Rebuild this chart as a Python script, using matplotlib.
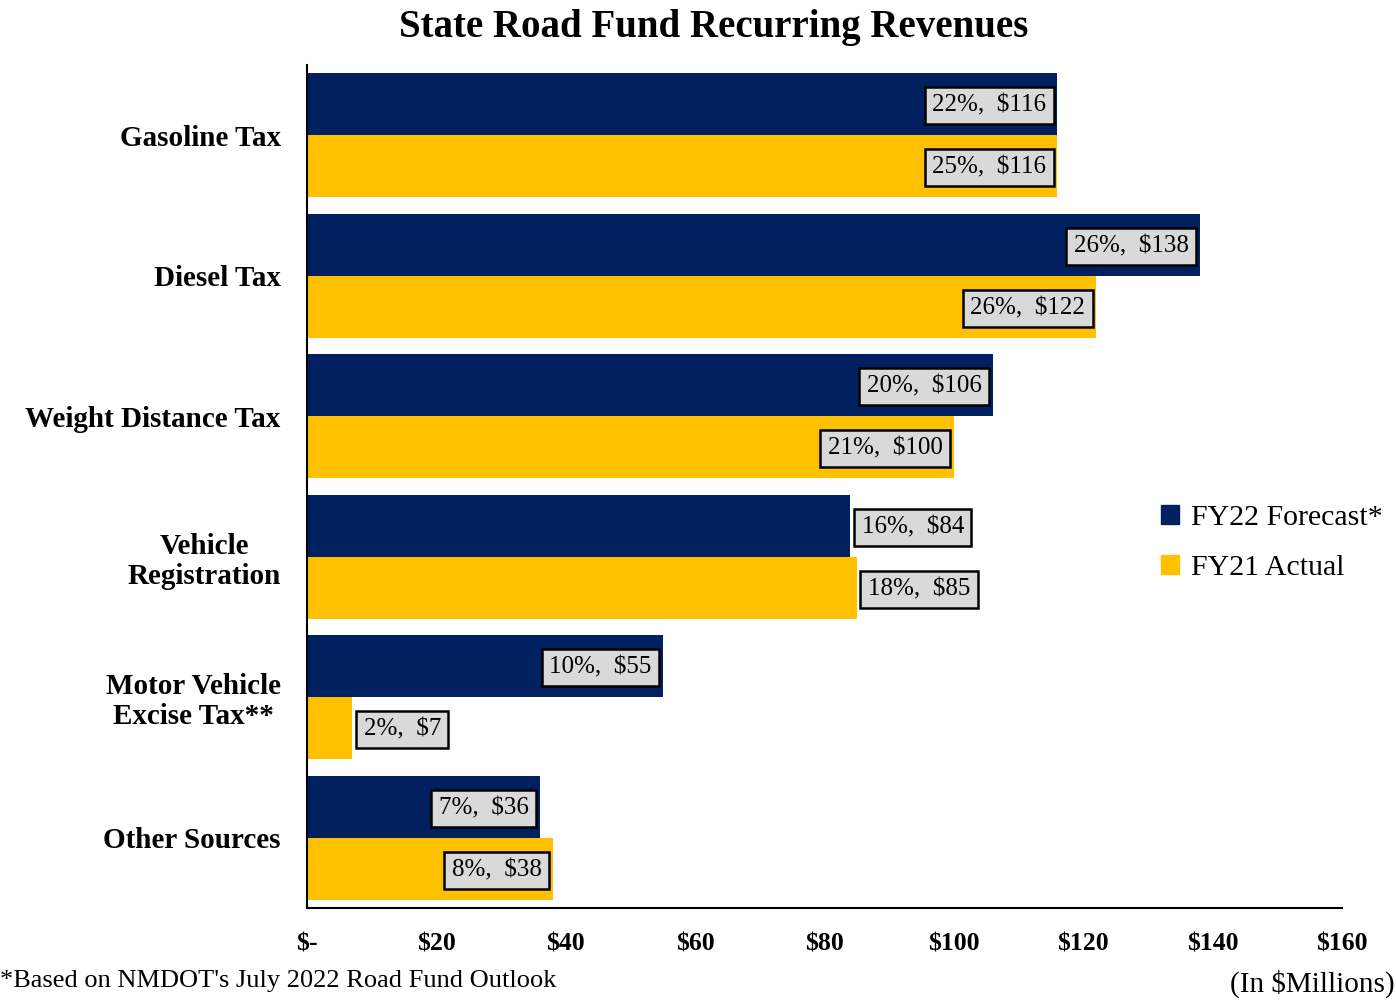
import numpy as np
import matplotlib.pyplot as plt
from matplotlib.patches import Patch

plt.rcParams['font.family'] = ['Liberation Serif', 'DejaVu Serif']

categories = ['Gasoline Tax', 'Diesel Tax', 'Weight Distance Tax',
              'Vehicle\nRegistration', 'Motor Vehicle\nExcise Tax**', 'Other Sources']
fy22_values = [116, 138, 106, 84, 55, 36]
fy22_pcts = [22, 26, 20, 16, 10, 7]
fy21_values = [116, 122, 100, 85, 7, 38]
fy21_pcts = [25, 26, 21, 18, 2, 8]
ticks = [0, 20, 40, 60, 80, 100, 120, 140, 160]
tick_labels = ['$-', '$20', '$40', '$60', '$80', '$100', '$120', '$140', '$160']

navy = '#002060'
gold = '#FFC000'

fig = plt.figure(figsize=(13.96, 10), dpi=100)
ax = fig.add_axes([0.22, 0.092, 0.7413, 0.843])

y = np.arange(len(categories))
h = 0.44
ax.barh(y - h / 2, fy22_values, height=h, color=navy)
ax.barh(y + h / 2, fy21_values, height=h, color=gold)

box = dict(boxstyle='square,pad=0.3', facecolor='#d9d9d9', edgecolor='black', linewidth=1.8)

for i in range(len(categories)):
    v22, v21 = fy22_values[i], fy21_values[i]
    t22 = f'{fy22_pcts[i]}%,  ${v22}'
    t21 = f'{fy21_pcts[i]}%,  ${v21}'
    vr = categories[i].startswith('Vehicle')
    # labels go inside the bar end, except vehicle registration and very short bars
    for yy, v, t, outside in [(i - h / 2, v22, t22, vr),
                              (i + h / 2, v21, t21, vr or v21 < 20)]:
        if outside:
            ax.annotate(t, (v, yy), xytext=(8, -1), textcoords='offset points',
                        ha='left', va='center', fontsize=18, bbox=box)
        else:
            ax.annotate(t, (v, yy), xytext=(-8, -1), textcoords='offset points',
                        ha='right', va='center', fontsize=18, bbox=box)

ax.set_xlim(0, 160)
ax.set_ylim(len(categories) - 0.5, -0.5)
ax.set_yticks(y)
ax.set_yticklabels(categories, fontsize=21, fontweight='bold', linespacing=1.15,
                   multialignment='center')
ax.set_xticks(ticks)
ax.set_xticklabels(tick_labels, fontsize=18.5, fontweight='bold')
ax.tick_params(axis='both', length=0)
ax.tick_params(axis='y', pad=19)
ax.tick_params(axis='x', pad=18)
ax.spines['top'].set_visible(False)
ax.spines['right'].set_visible(False)
ax.spines['left'].set_linewidth(1.5)
ax.spines['bottom'].set_linewidth(1.5)

fig.text(0.511, 0.972, 'State Road Fund Recurring Revenues', ha='center', va='center',
         fontsize=28, fontweight='bold')

handles = [Patch(color=navy, label='FY22 Forecast*'), Patch(color=gold, label='FY21 Actual')]
fig.legend(handles=handles, loc='center left', bbox_to_anchor=(0.832, 0.457), frameon=False,
           fontsize=21.5, handlelength=0.6, handleheight=0.6, handletextpad=0.4, labelspacing=0.8,
           borderpad=0, borderaxespad=0)

fig.text(0.0, 0.019, "*Based on NMDOT's July 2022 Road Fund Outlook", ha='left', va='center', fontsize=19)
fig.text(0.999, 0.016, '(In $Millions)', ha='right', va='center', fontsize=21)

fig.savefig('out.png', dpi=100)
